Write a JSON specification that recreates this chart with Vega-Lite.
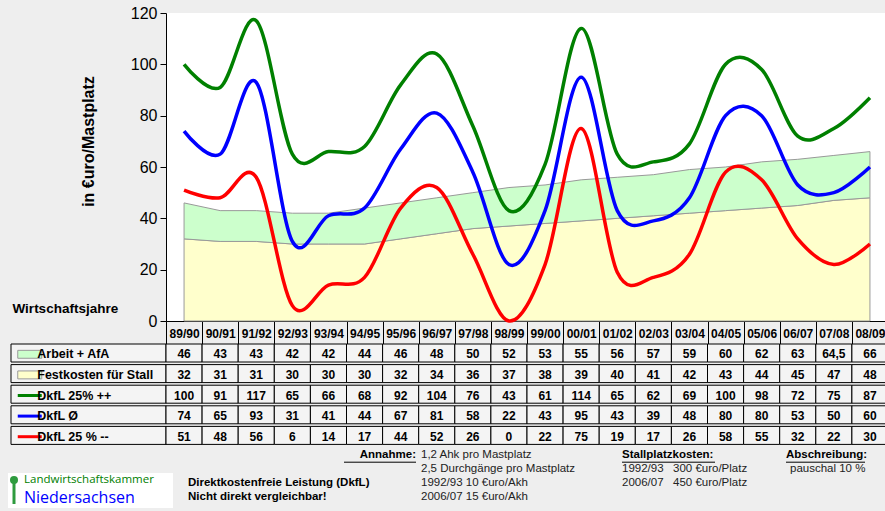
{
  "$schema": "https://vega.github.io/schema/vega-lite/v6.json",
  "background": "#eeeeee",
  "padding": {"left": 8, "right": 0, "top": 5, "bottom": 0},
  "config": {
    "view": {"stroke": null},
    "font": "Liberation Sans",
    "locale": {"number": {"decimal": ",", "thousands": ".", "grouping": [3], "currency": ["", " €"]}}
  },
  "datasets": {
    "d": [
      {"j": "89/90", "arbeit": 46, "fest": 32, "g": 100, "b": 74, "r": 51},
      {"j": "90/91", "arbeit": 43, "fest": 31, "g": 91, "b": 65, "r": 48},
      {"j": "91/92", "arbeit": 43, "fest": 31, "g": 117, "b": 93, "r": 56},
      {"j": "92/93", "arbeit": 42, "fest": 30, "g": 65, "b": 31, "r": 6},
      {"j": "93/94", "arbeit": 42, "fest": 30, "g": 66, "b": 41, "r": 14},
      {"j": "94/95", "arbeit": 44, "fest": 30, "g": 68, "b": 44, "r": 17},
      {"j": "95/96", "arbeit": 46, "fest": 32, "g": 92, "b": 67, "r": 44},
      {"j": "96/97", "arbeit": 48, "fest": 34, "g": 104, "b": 81, "r": 52},
      {"j": "97/98", "arbeit": 50, "fest": 36, "g": 76, "b": 58, "r": 26},
      {"j": "98/99", "arbeit": 52, "fest": 37, "g": 43, "b": 22, "r": 0},
      {"j": "99/00", "arbeit": 53, "fest": 38, "g": 61, "b": 43, "r": 22},
      {"j": "00/01", "arbeit": 55, "fest": 39, "g": 114, "b": 95, "r": 75},
      {"j": "01/02", "arbeit": 56, "fest": 40, "g": 65, "b": 43, "r": 19},
      {"j": "02/03", "arbeit": 57, "fest": 41, "g": 62, "b": 39, "r": 17},
      {"j": "03/04", "arbeit": 59, "fest": 42, "g": 69, "b": 48, "r": 26},
      {"j": "04/05", "arbeit": 60, "fest": 43, "g": 100, "b": 80, "r": 58},
      {"j": "05/06", "arbeit": 62, "fest": 44, "g": 98, "b": 80, "r": 55},
      {"j": "06/07", "arbeit": 63, "fest": 45, "g": 72, "b": 53, "r": 32},
      {"j": "07/08", "arbeit": 64.5, "fest": 47, "g": 75, "b": 50, "r": 22},
      {"j": "08/09", "arbeit": 66, "fest": 48, "g": 87, "b": 60, "r": 30}
    ],
    "rows": [
      {"k": "arbeit", "lab": "Arbeit + AfA", "kind": "area"},
      {"k": "fest", "lab": "Festkosten für Stall", "kind": "area"},
      {"k": "g", "lab": "DkfL 25% ++", "kind": "line"},
      {"k": "b", "lab": "DkfL Ø", "kind": "line"},
      {"k": "r", "lab": "DkfL 25 % --", "kind": "line"}
    ]
  },
  "columns": 2,
  "bounds": "flush",
  "spacing": {"row": 23, "column": 0},
  "concat": [
    {
      "width": 155,
      "height": 308,
      "data": {"values": []},
      "mark": "point"
    },
    {
      "width": 722,
      "height": 308,
      "view": {"fill": "white"},
      "data": {"name": "d"},
      "encoding": {
        "x": {
          "field": "j", "type": "nominal", "sort": null, "bandPosition": 0.5,
          "scale": {"type": "band", "paddingInner": 0, "paddingOuter": 0},
          "axis": {
            "title": null, "labelAngle": 0, "labelFontSize": 12, "labelFontWeight": "bold",
            "labelColor": "black", "tickBand": "extent", "tickSize": 23, "tickColor": "black",
            "domainColor": "black", "labelPadding": -11, "labelBaseline": "middle", "labelOverlap": false
          }
        }
      },
      "layer": [
        {
          "mark": {"type": "area", "fill": "#ffffcc", "stroke": "#999999", "strokeWidth": 1},
          "encoding": {
            "y": {
              "field": "fest", "type": "quantitative",
              "scale": {"domain": [0, 120], "nice": false},
              "axis": {
                "title": "in €uro/Mastplatz", "titleFontSize": 16, "titleFontWeight": "bold",
                "titleColor": "black", "titleX": -78, "titleY": 128, "titleAngle": -90,
                "titleBaseline": "middle", "titleAlign": "center",
                "values": [0, 20, 40, 60, 80, 100, 120], "grid": false,
                "labelFontSize": 16, "labelColor": "black", "tickColor": "black", "tickSize": 6,
                "labelPadding": 3, "domainColor": "black"
              }
            }
          }
        },
        {
          "mark": {"type": "area", "fill": "#ccffcc", "stroke": "#999999", "strokeWidth": 1},
          "encoding": {
            "y": {"field": "arbeit", "type": "quantitative"},
            "y2": {"field": "fest"}
          }
        },
        {
          "transform": [{"fold": ["g", "b", "r"], "as": ["k", "v"]}],
          "mark": {"type": "line", "strokeWidth": 3.5, "interpolate": "cardinal", "tension": 0},
          "encoding": {
            "y": {"field": "v", "type": "quantitative"},
            "color": {
              "field": "k", "type": "nominal",
              "scale": {"domain": ["g", "b", "r"], "range": ["#008000", "#0000ff", "#ff0000"]},
              "legend": null
            }
          }
        }
      ]
    },
    {
      "width": 155,
      "height": 103,
      "title": {"text": "Wirtschaftsjahre", "anchor": "start", "fontSize": 13.5, "fontWeight": "bold", "color": "black", "offset": 28, "dx": 2},
      "data": {"name": "rows"},
      "encoding": {
        "y": {
          "field": "k", "type": "nominal", "sort": ["arbeit", "fest", "g", "b", "r"],
          "scale": {"type": "band", "paddingInner": 0, "paddingOuter": 0}, "axis": null
        }
      },
      "layer": [
        {"mark": {"type": "rect", "fill": "#f4f4f4", "stroke": "black", "strokeWidth": 1}},
        {
          "transform": [{"filter": "datum.kind === 'area'"}],
          "mark": {"type": "point", "shape": "M-1,-0.33L1,-0.33L1,0.33L-1,0.33Z", "size": 576, "filled": true, "stroke": "#999999", "strokeWidth": 1, "opacity": 1},
          "encoding": {
            "x": {"datum": "sw", "type": "nominal", "scale": {"type": "point", "domain": ["sw", "tx"], "range": [15, 30]}, "axis": null},
            "fill": {"field": "k", "type": "nominal", "scale": {"domain": ["arbeit", "fest"], "range": ["#ccffcc", "#ffffcc"]}, "legend": null}
          }
        },
        {
          "transform": [{"filter": "datum.kind === 'line'"}],
          "mark": {"type": "point", "shape": "M-1,0L1,0", "size": 576, "filled": false, "strokeWidth": 3, "opacity": 1},
          "encoding": {
            "x": {"datum": "sw", "type": "nominal"},
            "stroke": {"field": "k", "type": "nominal", "scale": {"domain": ["g", "b", "r"], "range": ["#008000", "#0000ff", "#ff0000"]}, "legend": null}
          }
        },
        {
          "mark": {"type": "text", "align": "left", "baseline": "middle", "fontSize": 12.5, "fontWeight": "bold", "color": "black"},
          "encoding": {
            "x": {"datum": "tx", "type": "nominal"},
            "text": {"field": "lab"}
          }
        }
      ]
    },
    {
      "width": 722,
      "height": 103,
      "data": {"name": "d"},
      "transform": [{"fold": ["arbeit", "fest", "g", "b", "r"], "as": ["k", "v"]}],
      "encoding": {
        "x": {"field": "j", "type": "nominal", "sort": null, "scale": {"type": "band", "paddingInner": 0, "paddingOuter": 0}, "axis": null},
        "y": {"field": "k", "type": "nominal", "sort": ["arbeit", "fest", "g", "b", "r"], "scale": {"type": "band", "paddingInner": 0, "paddingOuter": 0}, "axis": null}
      },
      "layer": [
        {"mark": {"type": "rect", "fill": "#f4f4f4", "stroke": "black", "strokeWidth": 1}},
        {
          "mark": {"type": "text", "fontSize": 12, "fontWeight": "bold", "color": "black"},
          "encoding": {"text": {"field": "v", "type": "quantitative", "format": "~f"}}
        }
      ]
    },
    {
      "width": 155,
      "height": 41,
      "layer": [
        {
          "data": {"values": [{"logo": "box"}]},
          "mark": {"type": "rect", "color": "white"},
          "encoding": {
            "x": {"datum": -3, "type": "quantitative", "scale": {"domain": [0, 155], "nice": false, "zero": false}, "axis": null},
            "x2": {"datum": 162},
            "y": {"datum": 3, "type": "quantitative", "scale": {"domain": [0, 41], "nice": false, "zero": false, "reverse": true}, "axis": null},
            "y2": {"datum": 38}
          }
        },
        {
          "data": {"values": [{"logo": "stem"}]},
          "mark": {"type": "rule", "color": "#2e9b3e", "strokeWidth": 3},
          "encoding": {
            "x": {"datum": 3, "type": "quantitative"},
            "y": {"datum": 13, "type": "quantitative"},
            "y2": {"datum": 34}
          }
        },
        {
          "data": {"values": [{"logo": "dot"}]},
          "mark": {"type": "point", "shape": "circle", "filled": true, "color": "#2e9b3e", "size": 64, "opacity": 1},
          "encoding": {
            "x": {"datum": 3, "type": "quantitative"},
            "y": {"datum": 10, "type": "quantitative"}
          }
        },
        {
          "data": {"values": [{"t": "Landwirtschaftskammer", "line": 0}, {"t": "Niedersachsen", "line": 1}]},
          "mark": {"type": "text", "align": "left", "baseline": "middle", "font": "Open Sans"},
          "encoding": {
            "x": {"datum": 13, "type": "quantitative"},
            "y": {"datum": 10, "type": "quantitative"},
            "yOffset": {"field": "line", "type": "quantitative", "scale": {"domain": [0, 1], "range": [0, 17.5]}},
            "text": {"field": "t"},
            "size": {"field": "line", "type": "quantitative", "scale": {"domain": [0, 1], "range": [11.5, 16]}, "legend": null},
            "color": {"field": "line", "type": "nominal", "scale": {"domain": [0, 1], "range": ["#555555", "#2e9b3e"]}, "legend": null}
          }
        }
      ]
    },
    {
      "width": 722,
      "height": 41,
      "encoding": {
        "y": {"field": "line", "type": "quantitative", "scale": {"domain": [0, 3], "range": [-15, 26.5], "nice": false, "zero": false}, "axis": null}
      },
      "layer": [
        {
          "data": {"values": [{"t": "Direktkostenfreie Leistung (DkfL)", "line": 2}, {"t": "Nicht direkt vergleichbar!", "line": 3}]},
          "mark": {"type": "text", "align": "left", "baseline": "middle", "fontSize": 11.5, "fontWeight": "bold", "color": "black"},
          "encoding": {"x": {"datum": 22, "type": "quantitative", "scale": {"domain": [0, 722], "nice": false, "zero": false}, "axis": null}, "text": {"field": "t"}}
        },
        {
          "data": {"values": [{"t": "Annahme:", "line": 0}]},
          "mark": {"type": "text", "align": "right", "baseline": "middle", "fontSize": 11.5, "fontWeight": "bold", "color": "black"},
          "encoding": {"x": {"datum": 250, "type": "quantitative"}, "text": {"field": "t"}}
        },
        {
          "data": {"values": [{"t": "1,2 Ahk pro Mastplatz", "line": 0}, {"t": "2,5 Durchgänge pro Mastplatz", "line": 1}, {"t": "1992/93 10 €uro/Akh", "line": 2}, {"t": "2006/07 15 €uro/Akh", "line": 3}]},
          "mark": {"type": "text", "align": "left", "baseline": "middle", "fontSize": 11.5, "color": "#222222"},
          "encoding": {"x": {"datum": 255, "type": "quantitative"}, "text": {"field": "t"}}
        },
        {
          "data": {"values": [{"t": "Stallplatzkosten:", "line": 0}]},
          "mark": {"type": "text", "align": "left", "baseline": "middle", "fontSize": 11.5, "fontWeight": "bold", "color": "black"},
          "encoding": {"x": {"datum": 456, "type": "quantitative"}, "text": {"field": "t"}}
        },
        {
          "data": {"values": [{"t": "1992/93", "line": 1}, {"t": "2006/07", "line": 2}]},
          "mark": {"type": "text", "align": "left", "baseline": "middle", "fontSize": 11.5, "color": "#222222"},
          "encoding": {"x": {"datum": 456, "type": "quantitative"}, "text": {"field": "t"}}
        },
        {
          "data": {"values": [{"t": "300 €uro/Platz", "line": 1}, {"t": "450 €uro/Platz", "line": 2}]},
          "mark": {"type": "text", "align": "left", "baseline": "middle", "fontSize": 11.5, "color": "#222222"},
          "encoding": {"x": {"datum": 507, "type": "quantitative"}, "text": {"field": "t"}}
        },
        {
          "data": {"values": [{"t": "Abschreibung:", "line": 0}]},
          "mark": {"type": "text", "align": "left", "baseline": "middle", "fontSize": 11.5, "fontWeight": "bold", "color": "black"},
          "encoding": {"x": {"datum": 620, "type": "quantitative"}, "text": {"field": "t"}}
        },
        {
          "data": {"values": [{"t": "pauschal 10 %", "line": 1}]},
          "mark": {"type": "text", "align": "left", "baseline": "middle", "fontSize": 11.5, "color": "#222222"},
          "encoding": {"x": {"datum": 624, "type": "quantitative"}, "text": {"field": "t"}}
        },
        {
          "data": {"values": [{"u": "Annahme:", "line": 0.52}]},
          "mark": {"type": "rule", "color": "black", "strokeWidth": 1},
          "encoding": {"x": {"datum": 178, "type": "quantitative"}, "x2": {"datum": 250}}
        },
        {
          "data": {"values": [{"u": "Stallplatzkosten:", "line": 0.52}]},
          "mark": {"type": "rule", "color": "black", "strokeWidth": 1},
          "encoding": {"x": {"datum": 456, "type": "quantitative"}, "x2": {"datum": 549}}
        },
        {
          "data": {"values": [{"u": "Abschreibung:", "line": 0.52}]},
          "mark": {"type": "rule", "color": "black", "strokeWidth": 1},
          "encoding": {"x": {"datum": 620, "type": "quantitative"}, "x2": {"datum": 699}}
        }
      ]
    }
  ]
}
